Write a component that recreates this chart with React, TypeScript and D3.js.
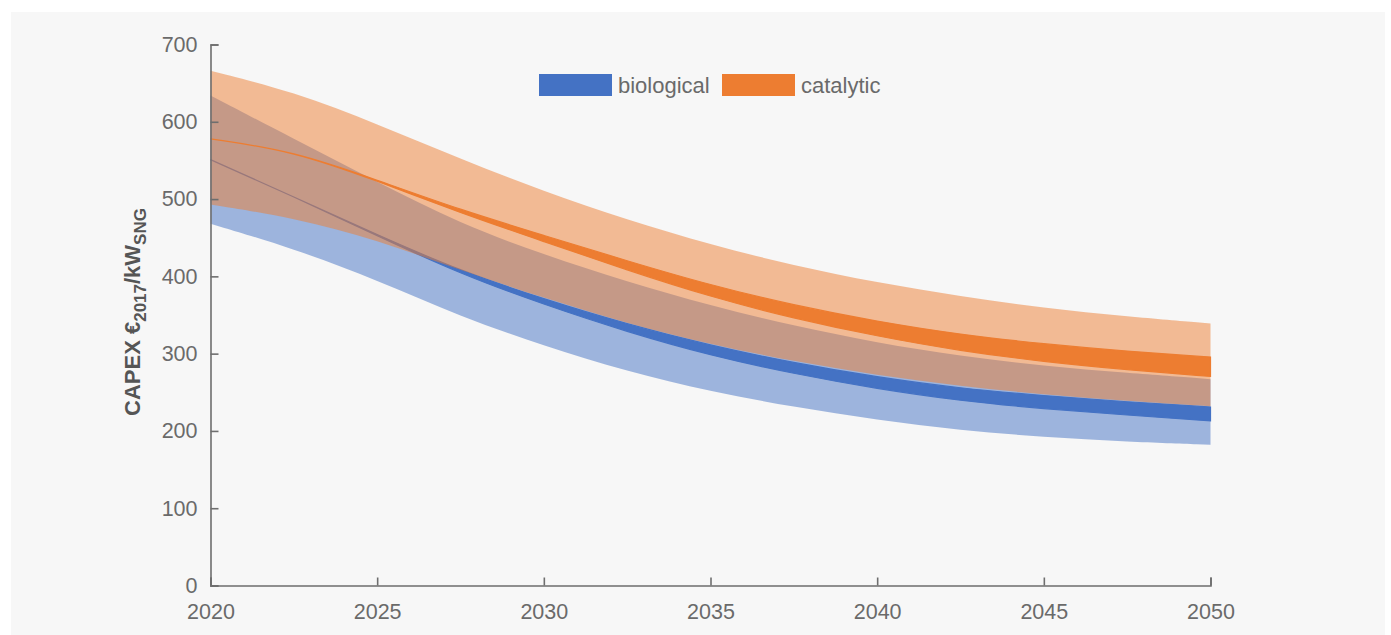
import React, { useEffect, useRef } from 'react';
import * as d3 from 'd3';

const years = [2020, 2022.5, 2025, 2027.5, 2030, 2032.5, 2035, 2037.5, 2040, 2042.5, 2045, 2047.5, 2050];

const bioLow = [468, 436, 395, 348, 310, 277, 251, 231, 214, 201, 192, 186, 182];
const bioHigh = [634, 578, 522, 468, 428, 393, 362, 336, 314, 297, 284, 275, 267];
const bioMidLow = [551, 503, 452.5, 403, 363.5, 328, 297.5, 274, 254.5, 239, 228.5, 220.5, 213];
const bioMidHigh = [551, 503, 453.5, 407, 370.5, 338, 310.5, 288, 269.5, 255, 245.5, 237.5, 231];

const catLow = [493, 476, 447, 408, 372, 339, 312, 290, 272, 258, 247, 239, 232];
const catHigh = [666, 639, 597, 552, 510, 473, 441, 414, 392, 374, 359, 348, 339];
const catMidLow = [578, 562, 523.5, 482, 445, 408, 373.5, 345.5, 322.5, 303.5, 289.5, 279, 270.5];
const catMidHigh = [578, 562, 524.5, 486, 453, 420, 388.5, 362.5, 341.5, 324.5, 312.5, 303, 295.5];

const yTicks = [0, 100, 200, 300, 400, 500, 600, 700];
const xTicks = [2020, 2025, 2030, 2035, 2040, 2045, 2050];

const series = [
  { name: 'biological', color: '#4472C4' },
  { name: 'catalytic', color: '#ED7D31' },
];

const W = 1391;
const H = 635;
const font = '"Liberation Sans", Arial, Helvetica, sans-serif';

const App = () => {
  const xAxisRef = useRef(null);
  const yAxisRef = useRef(null);

  const x = d3.scaleLinear().domain([2020, 2050]).range([210.5, 1210.5]);
  const y = d3.scaleLinear().domain([0, 700]).range([585.5, 44.5]);

  const band = (lo, hi) =>
    d3.area()
      .x((d, i) => x(years[i]))
      .y0((d, i) => y(lo[i]))
      .y1((d, i) => y(hi[i]))
      .curve(d3.curveBasis)(years);

  useEffect(() => {
    const gx = d3.select(xAxisRef.current);
    gx.selectAll('*').remove();
    gx.call(
      d3.axisBottom(x).tickValues(xTicks).tickFormat(d3.format('d'))
        .tickSizeInner(-8).tickSizeOuter(-8).tickPadding(18)
    );
    const gy = d3.select(yAxisRef.current);
    gy.selectAll('*').remove();
    gy.call(
      d3.axisLeft(y).tickValues(yTicks)
        .tickSizeInner(-8).tickSizeOuter(-8).tickPadding(13)
    );
    [gx, gy].forEach(g => {
      g.selectAll('path, line').attr('stroke', '#6e6e6e').attr('stroke-width', 1.6);
      g.selectAll('text')
        .attr('fill', '#6a6a6a')
        .style('font-family', font)
        .style('font-size', '21.5px');
    });
  }, []);

  return (
    <svg width={W} height={H} style={{ position: 'absolute', left: 0, top: 0 }}>
      <rect x={0} y={0} width={W} height={H} fill="#ffffff" />
      <rect x={11} y={12} width={1374} height={623} fill="#f7f7f7" />

      {/* biological range + central band */}
      <path d={band(bioLow, bioHigh)} fill={series[0].color} fillOpacity={0.5} />
      <path d={band(bioMidLow, bioMidHigh)} fill={series[0].color}
        stroke={series[0].color} strokeWidth={1.2} />

      {/* catalytic range + central band */}
      <path d={band(catLow, catHigh)} fill={series[1].color} fillOpacity={0.5} />
      <path d={band(catMidLow, catMidHigh)} fill={series[1].color}
        stroke={series[1].color} strokeWidth={1.2} />

      <g ref={xAxisRef} transform={`translate(0,${y(0)})`} />
      <g ref={yAxisRef} transform={`translate(${x(2020)},0)`} />

      {/* legend */}
      <rect x={539} y={74} width={73} height={22} fill={series[0].color} />
      <text x={618} y={93} fill="#6a6a6a" fontFamily={font} fontSize={22}>{series[0].name}</text>
      <rect x={722} y={74} width={73} height={22} fill={series[1].color} />
      <text x={801} y={93} fill="#6a6a6a" fontFamily={font} fontSize={22}>{series[1].name}</text>

      {/* y axis title */}
      <text transform="translate(140,312) rotate(-90)" textAnchor="middle"
        fill="#555555" fontFamily={font} fontWeight="bold" fontSize={22}>
        CAPEX €
        <tspan dy={6} fontSize={17}>2017</tspan>
        <tspan dy={-6} fontSize={22}>/kW</tspan>
        <tspan dy={6} fontSize={17}>SNG</tspan>
      </text>
    </svg>
  );
};

export default App;
